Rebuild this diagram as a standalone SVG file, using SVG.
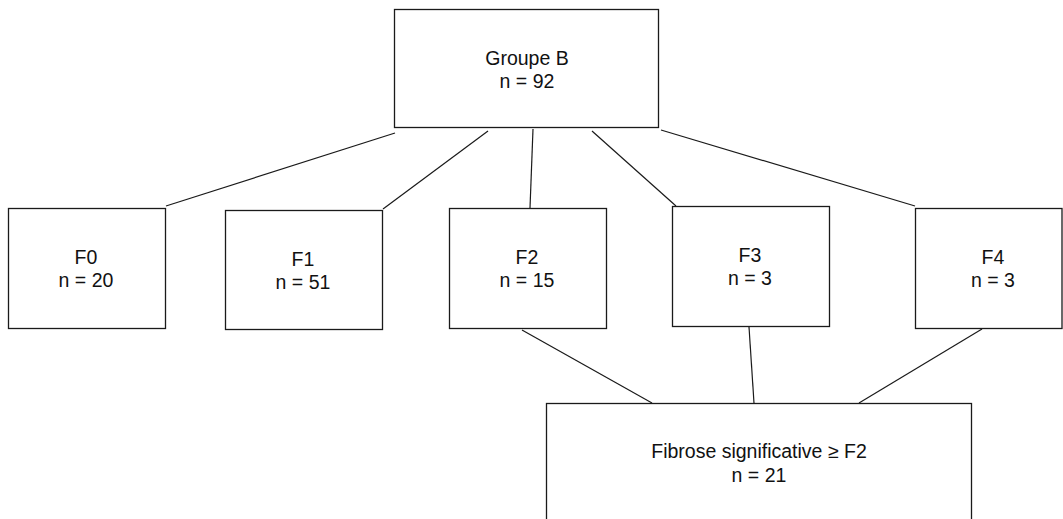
<svg xmlns="http://www.w3.org/2000/svg" width="1063" height="519" viewBox="0 0 1063 519">
<style>
.box{fill:#fff;stroke:#1a1a1a;stroke-width:1.3}
.ln{stroke:#1a1a1a;stroke-width:1.2;fill:none}
text{font-family:"Liberation Sans",Arial,sans-serif;font-size:19.5px;fill:#111;text-anchor:middle}
</style>
<rect width="1063" height="519" fill="#fff"/>
<g id="connectors">
<line class="ln" x1="395" y1="133" x2="166" y2="206"/>
<line class="ln" x1="488" y1="131" x2="383" y2="209"/>
<line class="ln" x1="533" y1="129" x2="530" y2="208"/>
<line class="ln" x1="592" y1="131" x2="676" y2="206"/>
<line class="ln" x1="661" y1="130" x2="915" y2="206"/>
<line class="ln" x1="522" y1="330" x2="652" y2="403"/>
<line class="ln" x1="749" y1="327" x2="754" y2="403"/>
<line class="ln" x1="982" y1="329" x2="859" y2="403"/>
</g>
<g id="groupeB">
<rect class="box" x="394.5" y="9.5" width="264" height="118"/>
<text x="527" y="65">Groupe B</text>
<text x="527" y="88">n = 92</text>
</g>
<g id="F0">
<rect class="box" x="8.5" y="208.5" width="157" height="120"/>
<text x="86" y="264">F0</text>
<text x="86" y="287">n = 20</text>
</g>
<g id="F1">
<rect class="box" x="225.5" y="210.5" width="157" height="119"/>
<text x="303" y="266">F1</text>
<text x="303" y="289">n = 51</text>
</g>
<g id="F2">
<rect class="box" x="449.5" y="208.5" width="157" height="120"/>
<text x="527" y="264">F2</text>
<text x="527" y="287">n = 15</text>
</g>
<g id="F3">
<rect class="box" x="672.5" y="206.5" width="157" height="120"/>
<text x="750" y="262">F3</text>
<text x="750" y="285">n = 3</text>
</g>
<g id="F4">
<rect class="box" x="915.5" y="208.5" width="146.5" height="120"/>
<text x="993" y="264">F4</text>
<text x="993" y="287">n = 3</text>
</g>
<g id="fibrose">
<rect class="box" x="546.5" y="403.5" width="425" height="130"/>
<text x="759" y="458">Fibrose significative ≥ F2</text>
<text x="759" y="482">n = 21</text>
</g>
</svg>
